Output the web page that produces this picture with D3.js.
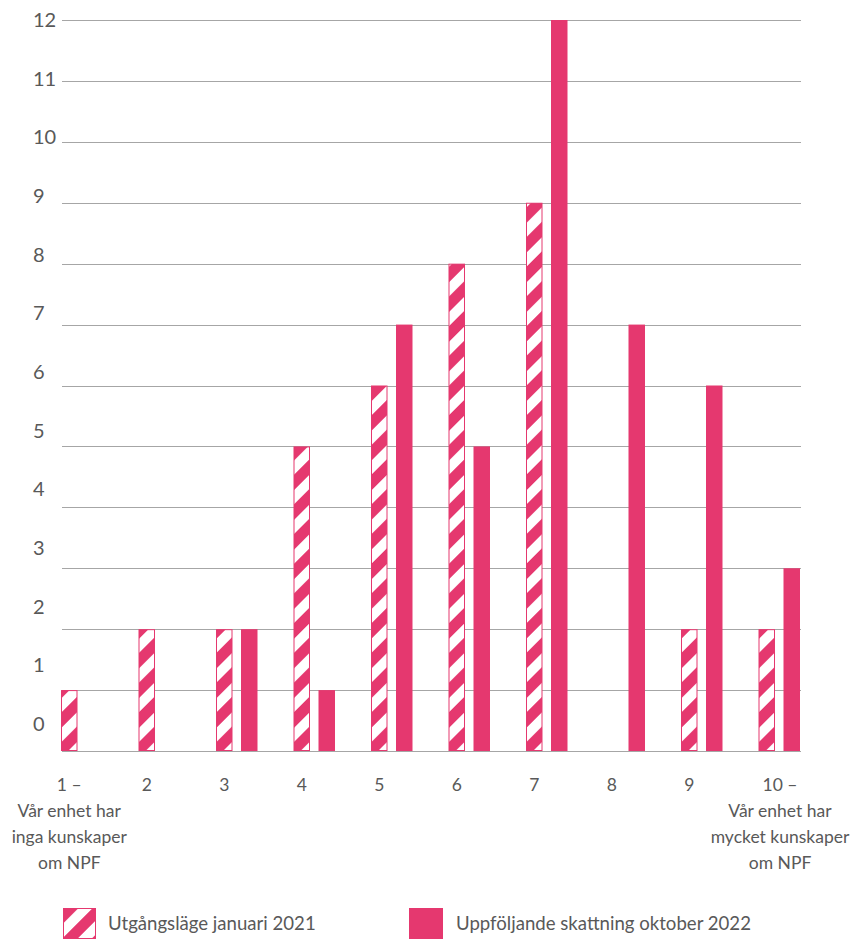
<!DOCTYPE html>
<html>
<head>
<meta charset="utf-8">
<script src="https://cdn.jsdelivr.net/npm/d3@7"></script>
<style>
  html, body { margin: 0; padding: 0; background: #fff; }
  svg { display: block; }
</style>
</head>
<body>
<div id="chart"></div>
<script>
// Categories on the 1-10 scale, with multi-line labels for the ends
const categories = ['1', '2', '3', '4', '5', '6', '7', '8', '9', '10'];
const categoryLabels = [
  ['1 –', 'Vår enhet har', 'inga kunskaper', 'om NPF'],
  ['2'], ['3'], ['4'], ['5'], ['6'], ['7'], ['8'], ['9'],
  ['10 –', 'Vår enhet har', 'mycket kunskaper', 'om NPF']
];
const seriesNames = ['Utgångsläge januari 2021', 'Uppföljande skattning oktober 2022'];
const baseline2021 = [1, 2, 2, 5, 6, 8, 9, 0, 2, 2];
const followup2022 = [0, 0, 2, 1, 7, 5, 12, 7, 6, 3];
const yTicks = [0, 1, 2, 3, 4, 5, 6, 7, 8, 9, 10, 11, 12];

const width = 859, height = 939;
const margin = { top: 20, left: 62, right: 59 };
const plotBottom = 751;
const pink = '#e5386f';
const textColor = '#595959';
const font = 'Lato, "Open Sans", sans-serif';

const svg = d3.select('#chart').append('svg')
  .attr('width', width)
  .attr('height', height);

// Diagonal stripe pattern for the 2021 series
const defs = svg.append('defs');
const pat = defs.append('pattern')
  .attr('id', 'stripes')
  .attr('patternUnits', 'userSpaceOnUse')
  .attr('width', 21)
  .attr('height', 21)
  .attr('patternTransform', 'rotate(45)');
pat.append('rect').attr('width', 21).attr('height', 21).attr('fill', '#fff');
pat.append('rect').attr('width', 11).attr('height', 21).attr('fill', pink);

const y = d3.scaleLinear()
  .domain([0, 12])
  .range([plotBottom, margin.top]);

// tick labels in the original sit on a slightly tighter spacing than the gridlines
const yLabel = d3.scaleLinear()
  .domain([0, 12])
  .range([724, margin.top]);

const x = d3.scaleBand()
  .domain(categories)
  .range([61, 61 + 77.5 * categories.length]);

const xSub = d3.scaleBand()
  .domain(['a', 'b'])
  .range([0, 41.5])
  .paddingInner(0.34)
  .paddingOuter(0);

// Gridlines
svg.append('g')
  .selectAll('line')
  .data(yTicks)
  .join('line')
  .attr('x1', margin.left)
  .attr('x2', width - margin.right + 1)
  .attr('y1', d => Math.round(y(d)) + 0.5)
  .attr('y2', d => Math.round(y(d)) + 0.5)
  .attr('stroke', '#a6a6a6')
  .attr('stroke-width', 1);

// Y labels (left aligned, as in the source)
svg.append('g')
  .selectAll('text')
  .data(yTicks)
  .join('text')
  .attr('x', 33)
  .attr('y', d => yLabel(d))
  .attr('dy', '0.35em')
  .attr('fill', textColor)
  .attr('font-size', '20px')
  .attr('font-family', font)
  .text(d => d);

// Bars
const groups = svg.append('g')
  .selectAll('g')
  .data(categories)
  .join('g')
  .attr('transform', d => `translate(${x(d)},0)`);

groups.append('rect')
  .attr('x', xSub('a') + 0.5)
  .attr('y', (d, i) => y(baseline2021[i]) + 0.5)
  .attr('width', xSub.bandwidth() - 1)
  .attr('height', (d, i) => Math.max(0, y(0) - y(baseline2021[i]) - 1))
  .attr('fill', 'url(#stripes)')
  .attr('stroke', pink)
  .attr('stroke-width', 1)
  .style('display', (d, i) => baseline2021[i] > 0 ? null : 'none');

groups.append('rect')
  .attr('x', xSub('b'))
  .attr('y', (d, i) => y(followup2022[i]))
  .attr('width', xSub.bandwidth())
  .attr('height', (d, i) => y(0) - y(followup2022[i]))
  .attr('fill', pink)
  .style('display', (d, i) => followup2022[i] > 0 ? null : 'none');

// Category labels: centred on the first bar, the last one on the group
const lastIdx = categories.length - 1;
groups.append('text')
  .attr('text-anchor', 'middle')
  .attr('fill', textColor)
  .attr('font-size', '17.5px')
  .attr('font-family', font)
  .each(function(d, i) {
    const cx = i === lastIdx ? 21.5 : xSub('a') + xSub.bandwidth() / 2;
    d3.select(this).selectAll('tspan')
      .data(categoryLabels[i])
      .join('tspan')
      .attr('x', cx)
      .attr('y', (t, j) => 791 + j * 26)
      .text(t => t);
  });

// Legend
const legend = svg.append('g').attr('transform', 'translate(0,908)');
const legendX = [63, 409];
seriesNames.forEach((name, i) => {
  const g = legend.append('g').attr('transform', `translate(${legendX[i]},0)`);
  g.append('rect')
    .attr('x', i === 0 ? 0.5 : 0)
    .attr('y', i === 0 ? 0.5 : 0)
    .attr('width', i === 0 ? 32 : 34)
    .attr('height', i === 0 ? 30 : 31)
    .attr('fill', i === 0 ? 'url(#stripes)' : pink)
    .attr('stroke', i === 0 ? pink : 'none');
  g.append('text')
    .attr('x', i === 0 ? 45 : 47)
    .attr('y', 15)
    .attr('dy', '0.35em')
    .attr('fill', textColor)
    .attr('font-size', '18.6px')
    .attr('font-family', font)
    .text(name);
});
</script>
</body>
</html>
